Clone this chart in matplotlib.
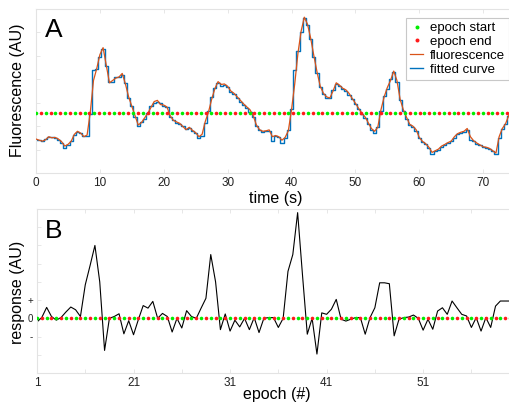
import matplotlib
matplotlib.use("Agg")
import matplotlib.pyplot as plt
import numpy as np

plt.rcParams['font.family'] = ['Liberation Sans', 'DejaVu Sans']

# ---------------- panel A data ----------------
# fluorescence trace, one sample every 0.5 s starting at t = 0
fluor_dt = 0.5
fluorescence = [
    1.45, 1.40, 1.36, 1.42, 1.55, 1.50, 1.52, 1.45, 1.34, 1.15,
    1.22, 1.35, 1.65, 1.78, 1.70, 1.55, 1.62, 2.60, 3.95, 4.45,
    5.05, 5.35, 4.60, 3.85, 3.95, 4.05, 4.10, 4.25, 3.80, 3.25,
    2.85, 2.45, 2.05, 2.15, 2.35, 2.55, 2.80, 3.05, 3.10, 2.92,
    2.90, 2.82, 2.45, 2.25, 2.18, 2.12, 1.98, 1.85, 1.95, 1.82,
    1.72, 1.55, 1.65, 2.20, 2.60, 3.15, 3.60, 3.90, 3.78, 3.80,
    3.70, 3.50, 3.40, 3.25, 3.10, 2.95, 2.82, 2.70, 2.45, 2.05,
    1.85, 1.78, 1.80, 1.84, 1.55, 1.60, 1.55, 1.40, 1.52, 1.80,
    2.70, 3.80, 5.10, 6.05, 6.65, 6.35, 5.75, 5.00, 4.30, 3.70,
    3.40, 3.25, 3.20, 3.50, 3.85, 3.75, 3.62, 3.55, 3.40, 3.18,
    2.98, 2.76, 2.55, 2.40, 2.15, 1.90, 1.78, 1.95, 2.70, 3.25,
    3.65, 3.95, 4.35, 3.95, 3.15, 2.70, 2.38, 2.08, 2.00, 1.85,
    1.52, 1.35, 1.25, 1.10, 0.88, 0.95, 1.02, 1.15, 1.22, 1.30,
    1.36, 1.55, 1.68, 1.74, 1.78, 1.90, 1.55, 1.38, 1.28, 1.20,
    1.12, 1.10, 1.05, 0.95, 0.85, 1.55, 1.90, 2.10, 2.45, 2.65,
]

# fitted curve on the same 0.5 s grid
fitted = [
    1.42, 1.42, 1.38, 1.45, 1.52, 1.52, 1.50, 1.42, 1.30, 1.08,
    1.20, 1.38, 1.62, 1.75, 1.72, 1.58, 1.60, 2.50, 4.40, 4.45,
    4.95, 5.30, 4.55, 3.90, 3.90, 4.10, 4.08, 4.20, 3.85, 3.20,
    2.85, 2.40, 2.00, 2.18, 2.30, 2.55, 2.85, 3.00, 3.05, 3.00,
    2.88, 2.80, 2.40, 2.28, 2.15, 2.10, 2.00, 1.88, 1.90, 1.80,
    1.70, 1.50, 1.60, 2.15, 2.65, 3.25, 3.62, 3.85, 3.72, 3.75,
    3.65, 3.45, 3.38, 3.20, 3.05, 2.92, 2.78, 2.62, 2.40, 2.00,
    1.82, 1.75, 1.78, 1.80, 1.38, 1.58, 1.52, 1.28, 1.50, 1.85,
    2.75, 4.40, 5.20, 6.00, 6.60, 6.30, 5.70, 4.95, 4.25, 3.65,
    3.38, 3.22, 3.22, 3.55, 3.80, 3.70, 3.60, 3.50, 3.35, 3.15,
    2.95, 2.72, 2.50, 2.35, 2.10, 1.85, 1.72, 1.98, 2.65, 3.30,
    3.60, 4.00, 4.30, 3.90, 3.10, 2.65, 2.30, 2.05, 1.95, 1.80,
    1.50, 1.32, 1.22, 1.05, 0.82, 0.92, 1.00, 1.12, 1.20, 1.28,
    1.35, 1.50, 1.65, 1.72, 1.75, 1.85, 1.40, 1.35, 1.25, 1.18,
    1.10, 1.08, 1.02, 0.92, 0.80, 1.50, 1.88, 2.08, 2.42, 2.62,
]

# epoch boundaries (s)
epoch_start = [
    0.00, 1.52, 3.04, 4.56, 6.08, 7.60, 9.12, 10.64, 12.16, 13.68,
    15.20, 16.72, 18.24, 19.76, 21.28, 22.80, 24.32, 25.84, 27.36, 28.88,
    30.40, 31.92, 33.44, 34.96, 36.48, 38.00, 39.52, 41.04, 42.56, 44.08,
    45.60, 47.12, 48.64, 50.16, 51.68, 53.20, 54.72, 56.24, 57.76, 59.28,
    60.80, 62.32, 63.84, 65.36, 66.88, 68.40, 69.92, 71.44, 72.96,
]
epoch_end = [
    0.76, 2.28, 3.80, 5.32, 6.84, 8.36, 9.88, 11.40, 12.92, 14.44,
    15.96, 17.48, 19.00, 20.52, 22.04, 23.56, 25.08, 26.60, 28.12, 29.64,
    31.16, 32.68, 34.20, 35.72, 37.24, 38.76, 40.28, 41.80, 43.32, 44.84,
    46.36, 47.88, 49.40, 50.92, 52.44, 53.96, 55.48, 57.00, 58.52, 60.04,
    61.56, 63.08, 64.60, 66.12, 67.64, 69.16, 70.68, 72.20, 73.72,
]
marker_level = 2.55

# ---------------- panel B data ----------------
response = [
    -0.20, 0.05, 0.60, 0.10, -0.10, 0.05, 0.35, 0.62, 0.47, 0.10,
    1.84, 2.90, 4.00, 2.00, -1.76, 0.00, 0.10, 0.25, -0.85, -0.13,
    -0.90, -0.07, 0.70, 0.56, 0.93, 0.00, 0.27, 0.10, -0.75, 0.00,
    -0.53, 0.42, 0.10, 0.00, 0.56, 1.10, 3.50, 2.00, -0.62, 0.24,
    -0.70, -0.10, -0.47, 0.00, -0.62, 0.04, -0.78, 0.00, 0.04, 0.04,
    -0.50, 0.00, 2.58, 3.50, 5.80, 2.40, -0.87, 0.00, -1.96, 0.30,
    0.22, 0.50, 1.04, -0.05, -0.15, -0.05, 0.04, 0.04, -0.87, 0.04,
    0.58, 1.95, 1.95, 1.90, -0.96, -0.05, 0.04, 0.07, 0.18, 0.00,
    -0.65, -0.05, -0.60, 0.40, 0.58, 0.22, 0.95, 0.58, 0.22, 0.13,
    -0.50, 0.04, -0.70, 0.04, -0.50, 0.67, 0.95, 0.95, 0.95,
]
b_tick_pos = [1, 11, 21, 31, 41, 51, 61, 71, 81, 91]
b_tick_labels = ['1', '', '21', '', '31', '', '41', '', '51', '']
b_ytick_pos = [-2, -1, 0, 1, 2, 3, 4, 5]
b_ytick_labels = ['', '-', '0', '+', '', '', '', '']

# ---------------- styling ----------------
GREEN = '#00ee00'
RED = '#ff1a1a'
ORANGE = '#d95319'
BLUE = '#0072bd'
FRAME = '#e3e3e3'

W, H = 510, 407
fig = plt.figure(figsize=(W / 100, H / 100), dpi=100)


def box_style(ax):
    for side in ('top', 'bottom', 'left'):
        ax.spines[side].set_color(FRAME)
        ax.spines[side].set_linewidth(0.8)
    ax.spines['right'].set_visible(False)
    ax.tick_params(direction='in', length=3, width=0.6, color=FRAME,
                   top=True, labelsize=8.5, labelcolor='#222222', pad=3)


# panel A
axA = fig.add_axes([36 / W, 1 - 173 / H, (W - 36) / W, (173 - 9) / H])
box_style(axA)
tf = np.arange(len(fluorescence)) * fluor_dt
axA.plot(tf, fitted, color=BLUE, lw=1.0, drawstyle='steps-mid',
         label='fitted curve', zorder=2)
axA.plot(tf, fluorescence, color=ORANGE, lw=0.9, label='fluorescence', zorder=3)
axA.plot(epoch_start, [marker_level] * len(epoch_start), 'o', ls='none',
         color=GREEN, ms=2.6, mew=0, label='epoch start', zorder=4)
axA.plot(epoch_end, [marker_level] * len(epoch_end), 'o', ls='none',
         color=RED, ms=2.6, mew=0, label='epoch end', zorder=4)
axA.set_xlim(0, 74.2)
axA.set_ylim(0, 7)
axA.set_xticks(range(0, 71, 10))
axA.set_yticks([1, 2, 3, 4, 5, 6])
axA.set_yticklabels([])

h, l = axA.get_legend_handles_labels()
order = [l.index(n) for n in ('epoch start', 'epoch end', 'fluorescence', 'fitted curve')]
leg = axA.legend([h[i] for i in order], [l[i] for i in order],
                 loc='upper right', bbox_to_anchor=(509 / W, 1 - 18 / H),
                 bbox_transform=fig.transFigure, fontsize=9.5, frameon=True,
                 fancybox=False, edgecolor='#c8c8c8', framealpha=1,
                 handlelength=1.0, handletextpad=0.5, labelspacing=0.12,
                 borderpad=0.3, borderaxespad=0, markerscale=1.1)
leg.get_frame().set_linewidth(0.8)

# panel B
axB = fig.add_axes([37 / W, 1 - 373 / H, (W - 37) / W, (373 - 209) / H])
box_style(axB)
idx = np.arange(1, len(response) + 1)
axB.plot(idx, response, color='black', lw=0.8, zorder=2)
axB.plot(idx[0::2], np.zeros(len(idx[0::2])), 'o', ls='none', color=GREEN,
         ms=2.6, mew=0, zorder=4)
axB.plot(idx[1::2], np.zeros(len(idx[1::2])), 'o', ls='none', color=RED,
         ms=2.6, mew=0, zorder=4)
axB.set_xlim(1, 99)
axB.set_ylim(-3, 6)
axB.set_xticks(b_tick_pos)
axB.set_xticklabels(b_tick_labels)
axB.set_yticks(b_ytick_pos)
axB.set_yticklabels(b_ytick_labels, fontsize=7)

# panel letters and axis titles
fig.text(45 / W, 1 - 37 / H, 'A', fontsize=19, va='baseline', ha='left')
fig.text(45 / W, 1 - 238 / H, 'B', fontsize=19, va='baseline', ha='left')
fig.text(18 / W, 1 - 90 / H, 'Fluorescence (AU)', rotation=90, fontsize=11.5,
         ha='center', va='center')
fig.text(276 / W, 1 - 198 / H, 'time (s)', fontsize=11.5, ha='center', va='center')
fig.text(18 / W, 1 - 292 / H, 'response (AU)', rotation=90, fontsize=11.5,
         ha='center', va='center')
fig.text(277 / W, 1 - 395 / H, 'epoch (#)', fontsize=11.5, ha='center', va='center')

fig.savefig('out.png', dpi=100, facecolor='white')
